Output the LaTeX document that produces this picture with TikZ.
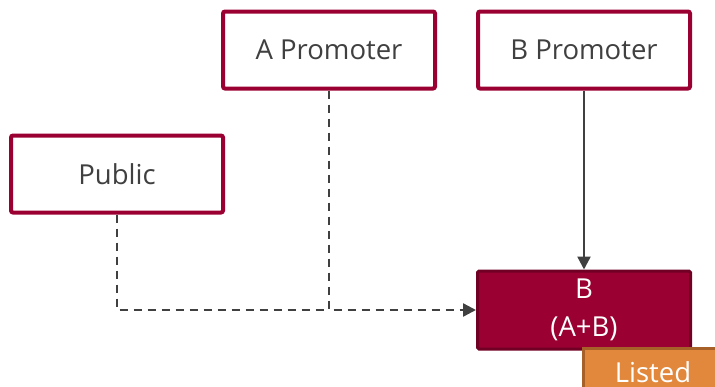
\documentclass[tikz,border=0pt]{standalone}
\usepackage{fontspec}
\setmainfont{Open Sans}
\usetikzlibrary{arrows.meta}
\definecolor{crimson}{RGB}{155,0,50}
\definecolor{crimsondark}{RGB}{112,0,36}
\definecolor{txtgray}{RGB}{64,64,64}
\definecolor{linkgray}{RGB}{64,64,64}
\definecolor{orangefill}{RGB}{226,136,60}
\definecolor{orangeedge}{RGB}{166,96,40}
\tikzset{
  party/.style={draw=crimson, line width=4pt, fill=white, rounded corners=2pt,
    minimum width=212pt, minimum height=77pt, text=txtgray,
    font=\fontsize{27.5}{32}\selectfont, inner sep=0pt},
  entity/.style={draw=crimsondark, line width=3pt, fill=crimson, rounded corners=1.5pt,
    minimum width=213pt, minimum height=78pt, text=white, align=center,
    font=\fontsize{27.5}{38}\selectfont, inner sep=0pt},
  tag/.style={draw=orangeedge, line width=3pt, fill=orangefill, text=white,
    minimum width=140pt, minimum height=48pt, font=\fontsize{27.5}{32}\selectfont, inner sep=0pt},
  link/.style={draw=linkgray, line width=2.4pt},
  dashlink/.style={link, dash pattern=on 8pt off 6pt},
  tip/.style={-{Triangle[length=13pt,width=13pt]}}
}
\begin{document}
\begin{tikzpicture}[x=1pt,y=-1pt]
  \useasboundingbox (0,0) rectangle (715,386);
  \clip (0,0) rectangle (715,386);
  \node[party] (pub) at (117,174) {Public};
  \node[party] (apro) at (329,50) {A Promoter};
  \node[party] (bpro) at (584,50) {B Promoter};
  \node[entity] (bco) at (584,310) {B\\(A+B)};
  \node[tag] (listed) at (653,372) {Listed};
  \coordinate (elbow) at (pub.south |- bco.west);
  \coordinate (join) at (apro.south |- bco.west);
  \draw[dashlink] (pub.south) -- (elbow) -- (join);
  \draw[dashlink, tip] (apro.south) -- (join) -- (bco.west);
  \draw[link, tip] (bpro.south) -- (bco.north);
\end{tikzpicture}
\end{document}
